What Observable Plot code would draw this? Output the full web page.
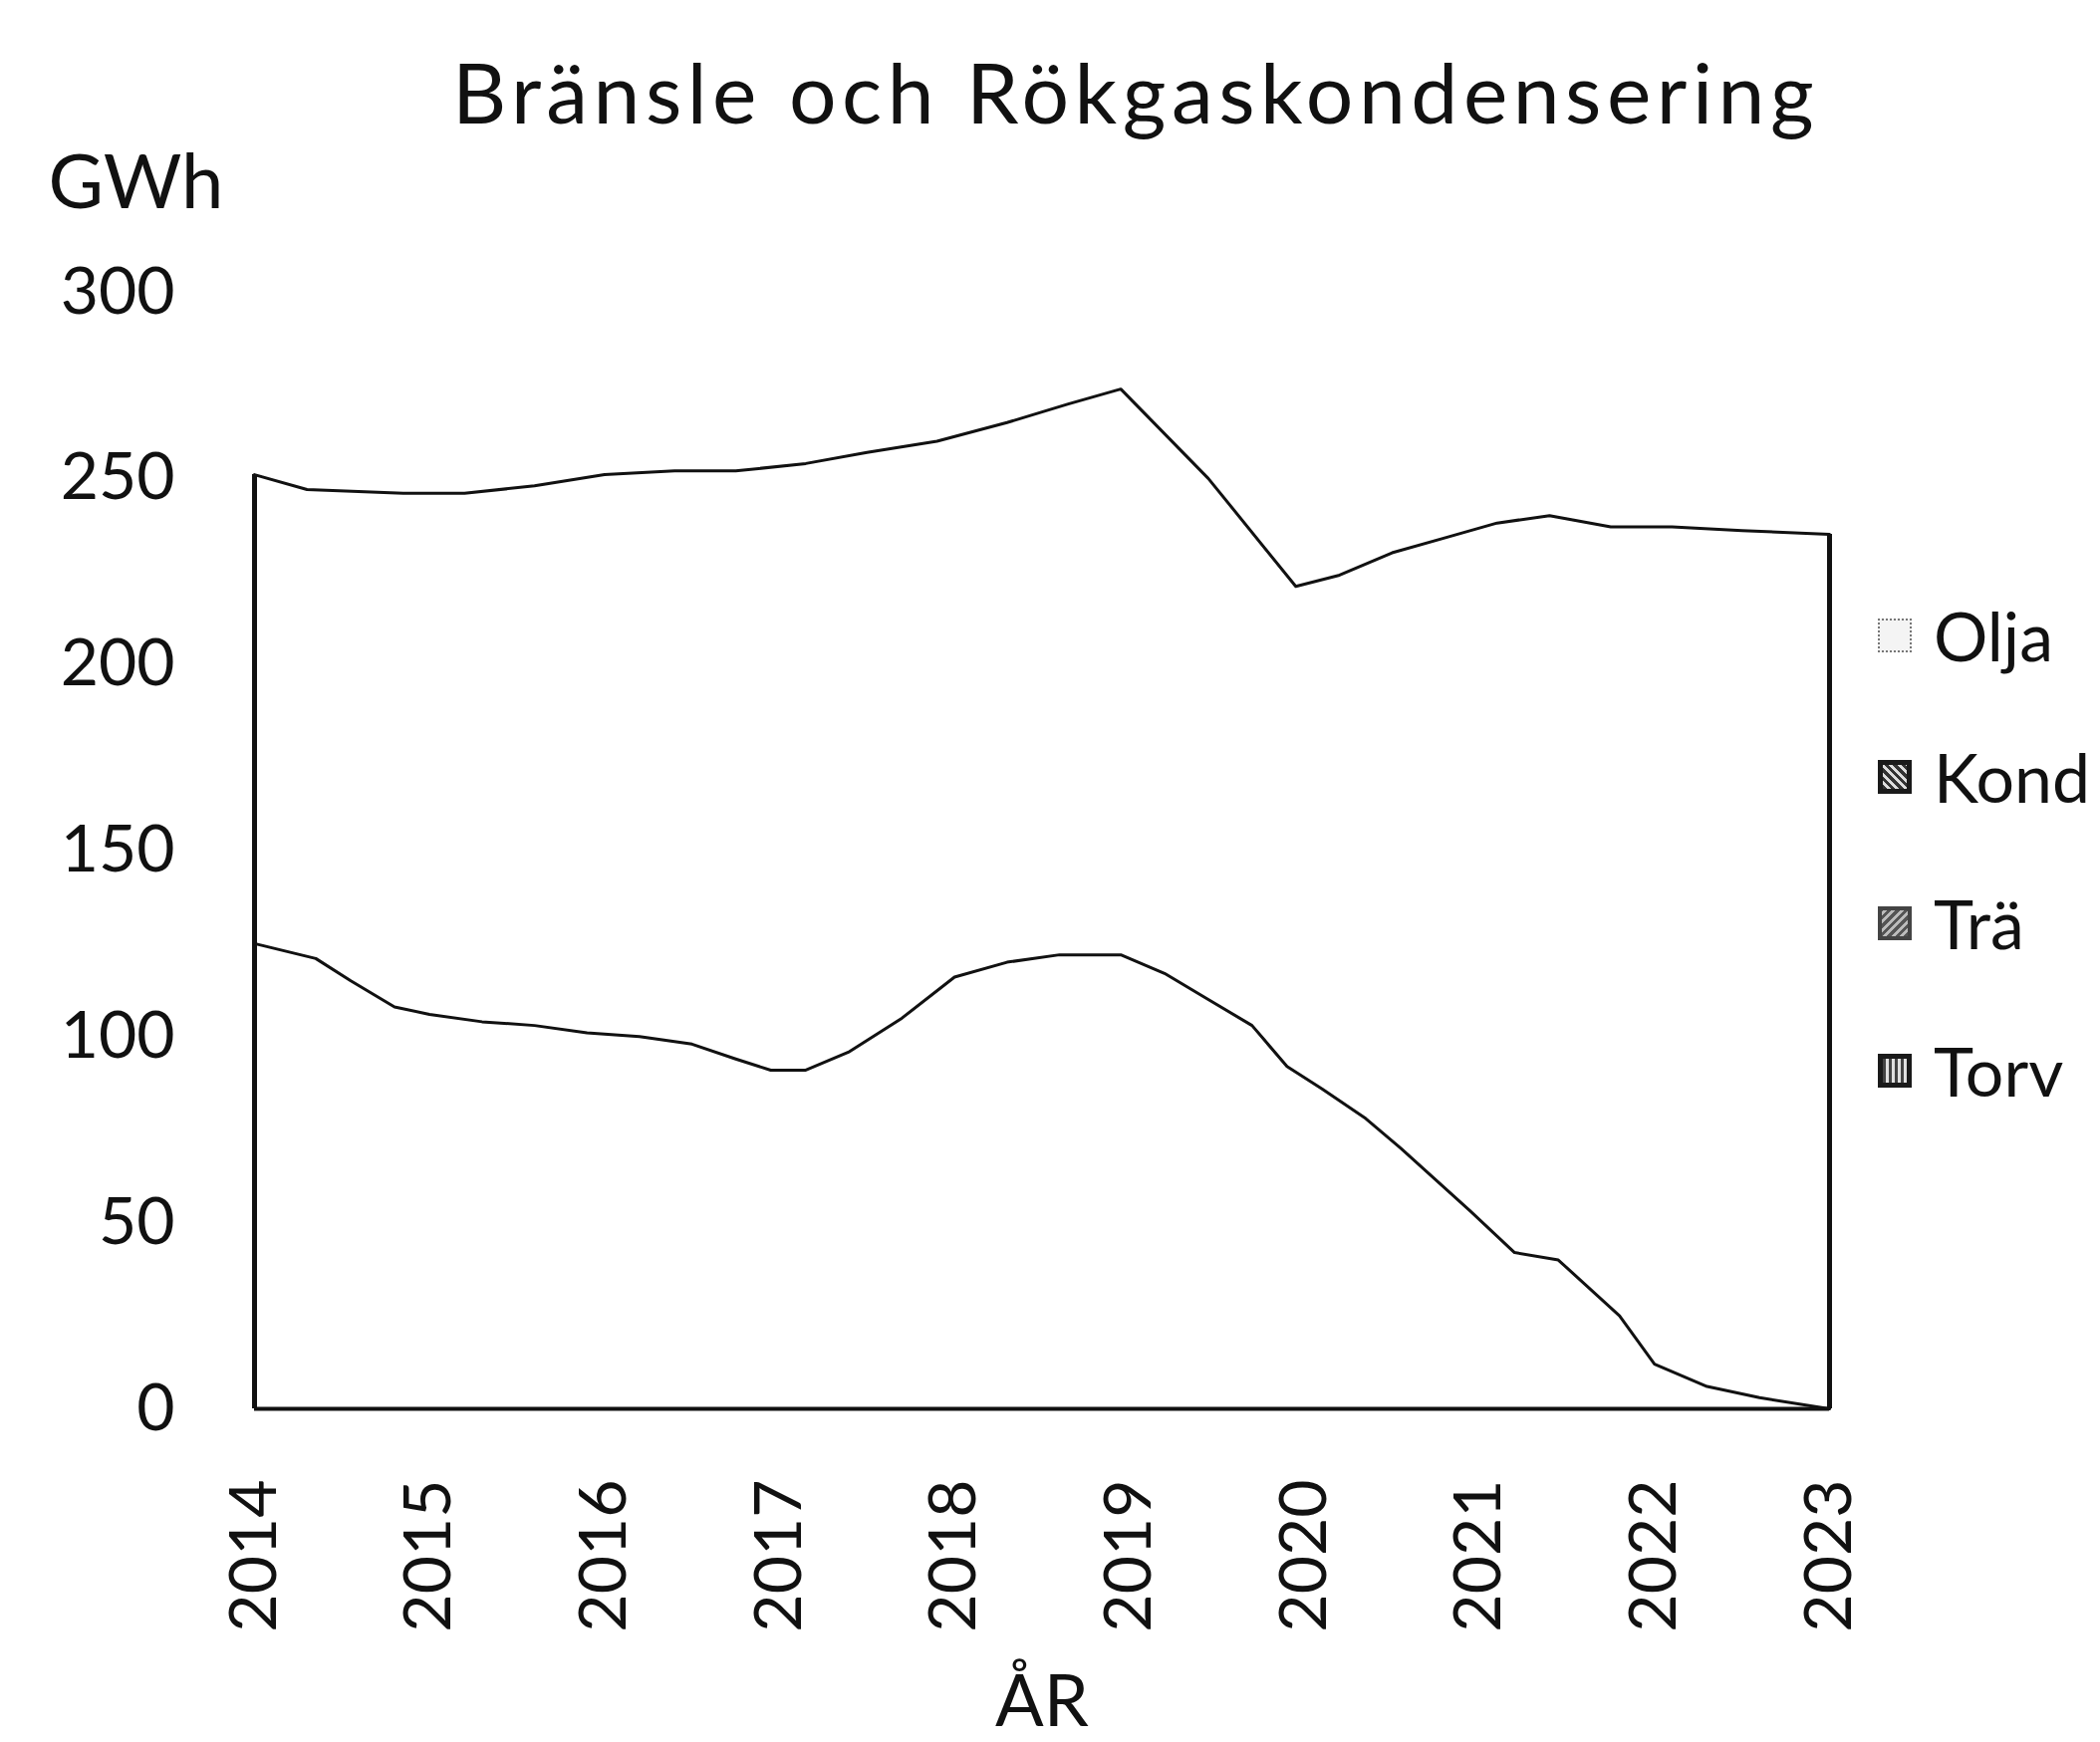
<!DOCTYPE html>
<html><head><meta charset="utf-8">
<script src="https://cdn.jsdelivr.net/npm/d3@7"></script>
<script src="https://cdn.jsdelivr.net/npm/@observablehq/plot@0.6"></script>
<style>
html,body{margin:0;padding:0;background:#fff;}
#wrap{position:relative;width:2108px;height:1749px;overflow:hidden;font-family:Lato,sans-serif;color:#111;background:#fff;}
#title{position:absolute;left:454px;top:50px;font-size:84px;line-height:84px;white-space:nowrap;letter-spacing:5.5px;z-index:2;}
#chart{position:absolute;left:0;top:130px;z-index:1;}
#legend{position:absolute;left:1885px;top:0;width:223px;height:1749px;z-index:2;}
.item{position:absolute;left:0;display:flex;align-items:center;white-space:nowrap;font-size:68px;line-height:68px;}
.sw{width:34px;height:34px;margin-right:22px;box-sizing:border-box;flex:none;}
</style></head><body>
<div id="wrap">
  <div id="title"></div>
  <div id="chart"></div>
  <div id="legend"></div>
</div>
<script>
// ---- data ----
const titleText = "Bränsle och Rökgaskondensering";
const yLabel = "GWh";
const xLabel = "ÅR";
const seriesNames = ["Olja", "Kond", "Trä", "Torv"];
const yearTicks = [2014, 2015, 2016, 2017, 2018, 2019, 2020, 2021, 2022, 2023];
const gwhTicks = [0, 50, 100, 150, 200, 250, 300];

// top outline of the stacked areas (total)
const totalYear = [2014.0, 2014.3, 2014.85, 2015.2, 2015.6, 2016.0, 2016.4, 2016.75, 2017.15, 2017.5, 2017.9, 2018.3, 2018.65, 2018.95, 2019.45, 2019.95, 2020.2, 2020.5, 2020.8, 2021.1, 2021.4, 2021.75, 2022.1, 2022.5, 2023.0];
const totalGWh  = [251, 247, 246, 246, 248, 251, 252, 252, 254, 257, 260, 265, 270, 274, 250, 221, 224, 230, 234, 238, 240, 237, 237, 236, 235];

// top of the Torv layer
const torvYear = [2014.0, 2014.35, 2014.55, 2014.8, 2015.0, 2015.3, 2015.6, 2015.9, 2016.2, 2016.5, 2016.75, 2016.95, 2017.15, 2017.4, 2017.7, 2018.0, 2018.3, 2018.6, 2018.95, 2019.2, 2019.45, 2019.7, 2019.9, 2020.1, 2020.35, 2020.55, 2020.95, 2021.2, 2021.45, 2021.8, 2022.0, 2022.3, 2022.6, 2023.0];
const torvGWh  = [125, 121, 115, 108, 106, 104, 103, 101, 100, 98, 94, 91, 91, 96, 105, 116, 120, 122, 122, 117, 110, 103, 92, 86, 78, 70, 53, 42, 40, 25, 12, 6, 3, 0];

// ---- build ----
const total = totalYear.map((x, i) => ({x, y: totalGWh[i]}));
const torv = torvYear.map((x, i) => ({x, y: torvGWh[i]}));
const edges = [total[0], total[total.length - 1]];

document.getElementById("title").textContent = titleText;

const chart = Plot.plot({
  width: 2108,
  height: 1619,
  marginLeft: 255,
  marginRight: 272,
  marginTop: 163,
  marginBottom: 335,
  style: {fontFamily: "Lato, sans-serif", fontSize: "66px", color: "#111", background: "transparent", overflow: "visible"},
  x: {domain: [2014, 2023], ticks: yearTicks, tickFormat: d => String(d), tickRotate: -90, tickSize: 0, tickPadding: 71, label: null},
  y: {domain: [0, 300], ticks: gwhTicks, tickFormat: d => String(d), tickSize: 0, tickPadding: 80, label: null},
  marks: [
    Plot.ruleY([0], {stroke: "#111", strokeWidth: 4}),
    Plot.ruleX(edges, {x: "x", y1: 0, y2: "y", stroke: "#111", strokeWidth: 5}),
    Plot.line(total, {x: "x", y: "y", stroke: "#111", strokeWidth: 3}),
    Plot.line(torv, {x: "x", y: "y", stroke: "#111", strokeWidth: 3}),
    Plot.text([yLabel], {text: d => d, frameAnchor: "top-left", dx: -207, dy: -85, textAnchor: "start", lineAnchor: "bottom", fontSize: 76, fill: "#111"}),
    Plot.text([xLabel], {text: d => d, frameAnchor: "bottom", dy: 318, lineAnchor: "bottom", fontSize: 72, fill: "#111"})
  ]
});
document.getElementById("chart").appendChild(chart);

// legend
const legendY = [638, 780, 927, 1075];
const swStyles = [
  "border:2px dotted #777;background:#f4f4f4;",
  "border:5px solid #1a1a1a;background:repeating-linear-gradient(45deg,#333 0 3px,#ddd 3px 6px);",
  "border:4px solid #444;background:repeating-linear-gradient(-45deg,#555 0 3px,#bbb 3px 6px);",
  "border:5px solid #1a1a1a;background:repeating-linear-gradient(90deg,#444 0 3px,#e0e0e0 3px 6px);"
];
const legend = document.getElementById("legend");
seriesNames.forEach((name, i) => {
  const item = document.createElement("div");
  item.className = "item";
  item.style.top = (legendY[i] - 34) + "px";
  const sw = document.createElement("div");
  sw.className = "sw";
  sw.style.cssText = swStyles[i];
  const t = document.createElement("span");
  t.textContent = name;
  item.appendChild(sw);
  item.appendChild(t);
  legend.appendChild(item);
});
</script>
</body></html>
